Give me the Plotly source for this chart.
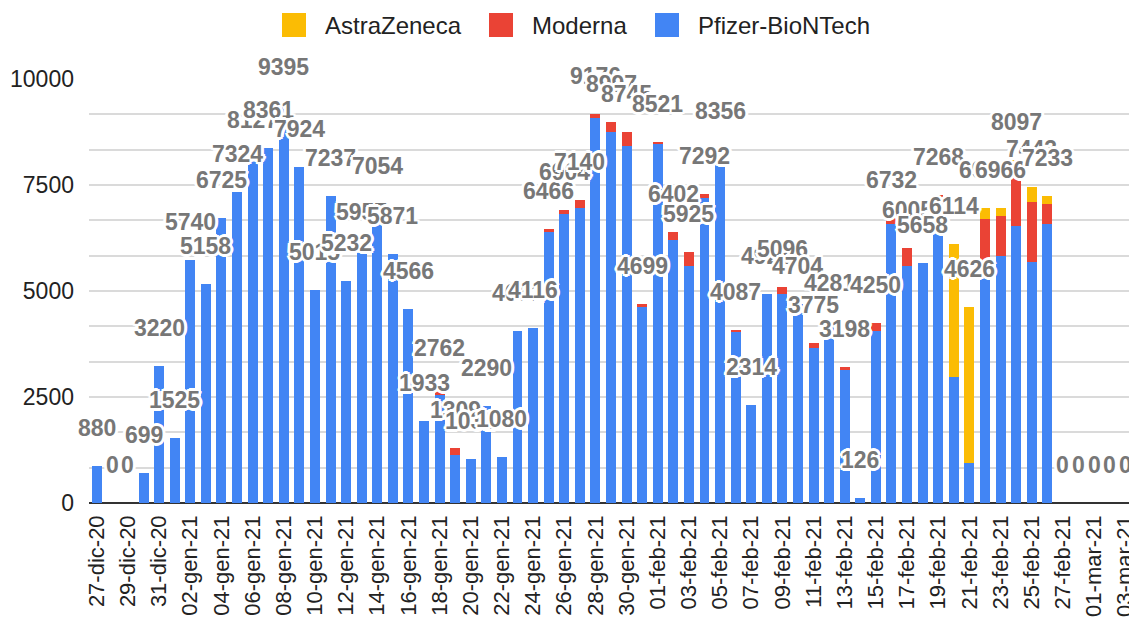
import plotly.graph_objects as go

dates = ["27-dic-20", "28-dic-20", "29-dic-20", "30-dic-20", "31-dic-20",
         "01-gen-21", "02-gen-21", "03-gen-21", "04-gen-21", "05-gen-21", "06-gen-21",
         "07-gen-21", "08-gen-21", "09-gen-21", "10-gen-21", "11-gen-21", "12-gen-21",
         "13-gen-21", "14-gen-21", "15-gen-21", "16-gen-21", "17-gen-21", "18-gen-21",
         "19-gen-21", "20-gen-21", "21-gen-21", "22-gen-21", "23-gen-21", "24-gen-21",
         "25-gen-21", "26-gen-21", "27-gen-21", "28-gen-21", "29-gen-21", "30-gen-21",
         "31-gen-21",
         "01-feb-21", "02-feb-21", "03-feb-21", "04-feb-21", "05-feb-21", "06-feb-21",
         "07-feb-21", "08-feb-21", "09-feb-21", "10-feb-21", "11-feb-21", "12-feb-21",
         "13-feb-21", "14-feb-21", "15-feb-21", "16-feb-21", "17-feb-21", "18-feb-21",
         "19-feb-21", "20-feb-21", "21-feb-21", "22-feb-21", "23-feb-21", "24-feb-21",
         "25-feb-21", "26-feb-21", "27-feb-21", "28-feb-21",
         "01-mar-21", "02-mar-21", "03-mar-21"]

pfizer = [880, 0, 0, 699, 3220,
          1525, 5740, 5158, 6725, 7324, 8127, 8361, 9395, 7924, 5015, 7237, 5232,
          5957, 7054, 5871, 4566, 1933, 2547, 1130, 1031, 2290, 1080, 4061, 4116,
          6396, 6814, 6965, 9086, 8757, 8428, 4629,
          8466, 6202, 5590, 7202, 8356, 4047, 2314, 4921, 4921, 4704, 3645, 4231,
          3148, 126, 4057, 6582, 5590, 5658, 7180, 2980, 951, 5300, 5825, 6533,
          5677, 6580, 0, 0,
          0, 0, 0]

moderna = [0, 0, 0, 0, 0,
           0, 0, 0, 0, 0, 0, 0, 0, 0, 0, 0, 0,
           0, 0, 0, 0, 0, 215, 179, 0, 0, 0, 0, 0,
           70, 90, 175, 90, 240, 317, 70,
           55, 200, 335, 90, 0, 40, 0, 0, 175, 0, 130, 50,
           50, 0, 193, 150, 415, 0, 88, 0, 0, 1400, 944, 1264,
           1430, 472, 0, 0,
           0, 0, 0]

astrazeneca = [0, 0, 0, 0, 0,
               0, 0, 0, 0, 0, 0, 0, 0, 0, 0, 0, 0,
               0, 0, 0, 0, 0, 0, 0, 0, 0, 0, 0, 0,
               0, 0, 0, 0, 0, 0, 0,
               0, 0, 0, 0, 0, 0, 0, 0, 0, 0, 0, 0,
               0, 0, 0, 0, 0, 0, 0, 3134, 3675, 246, 197, 300,
               336, 181, 0, 0,
               0, 0, 0]

y_ticks = [0, 2500, 5000, 7500, 10000]
y_ticktext = ["0", "2500", "5000", "7500", "10000"]

totals = [p + m + a for p, m, a in zip(pfizer, moderna, astrazeneca)]

FONT = "Arial, 'Liberation Sans', sans-serif"
C_PF = "#4285F4"
C_MO = "#EA4335"
C_AZ = "#FBBC04"

# the page body has an 8px default margin; size the figure to fit the window
OFF = 8
W, H = 1137 - OFF, 623 - OFF
ML, MR, MT, MB = 89 - OFF, 4, 79 - OFF, 623 - 503
PW, PH = W - ML - MR, H - MT - MB


def px_x(px):
    return (px - OFF - ML) / PW


def px_y(py):
    return (H - MB - (py - OFF)) / PH


fig = go.Figure()
fig.add_trace(go.Bar(x=dates, y=pfizer, name="Pfizer-BioNTech", marker_color=C_PF,
                     marker_line_width=0, showlegend=False))
fig.add_trace(go.Bar(x=dates, y=moderna, name="Moderna", marker_color=C_MO,
                     marker_line_width=0, showlegend=False))
fig.add_trace(go.Bar(x=dates, y=astrazeneca, name="AstraZeneca", marker_color=C_AZ,
                     marker_line_width=0, showlegend=False))

halo = ", ".join(f"{dx}px {dy}px 0 white" for dx, dy in
                 [(2, 0), (-2, 0), (0, 2), (0, -2), (2, 2), (-2, -2), (2, -2), (-2, 2),
                  (3, 0), (-3, 0), (0, 3), (0, -3)])

for d, t in zip(dates, totals):
    fig.add_annotation(x=d, y=t, text=str(t), showarrow=False, yshift=38,
                       yanchor="middle", xanchor="center",
                       font=dict(family=FONT, size=23, color="#777777",
                                 weight="bold", shadow=halo))

# custom legend (order as in reference)
legend_items = [("AstraZeneca", C_AZ, 282), ("Moderna", C_MO, 489),
                ("Pfizer-BioNTech", C_PF, 655)]
for name, col, sx in legend_items:
    fig.add_shape(type="rect", xref="paper", yref="paper",
                  x0=px_x(sx), x1=px_x(sx + 24), y0=px_y(37), y1=px_y(13),
                  fillcolor=col, line=dict(width=0), layer="above")
    fig.add_annotation(xref="paper", yref="paper", x=px_x(sx + 41), y=px_y(25),
                       text=name, showarrow=False, xanchor="left", yanchor="middle",
                       font=dict(family=FONT, size=24, color="#222222"))

fig.update_layout(
    width=W, height=H,
    margin=dict(l=ML, r=MR, t=MT, b=MB, autoexpand=False),
    barmode="stack",
    bargap=0.36,
    plot_bgcolor="white",
    paper_bgcolor="white",
    font=dict(family=FONT, size=23, color="#222222"),
    showlegend=False,
)

fig.update_xaxes(
    type="category",
    range=[-0.5, len(dates) - 0.5],
    tickmode="array",
    tickvals=dates[::2],
    ticktext=dates[::2],
    tickangle=-90,
    tickfont=dict(size=22, color="#222222"),
    showgrid=False,
    showline=False,
    ticks="",
    ticklabelstandoff=7,
    automargin=False,
)

fig.update_yaxes(
    range=[0, 10000],
    tickmode="array",
    tickvals=y_ticks,
    ticktext=y_ticktext,
    tickfont=dict(size=23, color="#222222"),
    showgrid=True,
    gridcolor="#dadada",
    gridwidth=1.5,
    minor=dict(tickmode="linear", tick0=0, dtick=2500 / 3, showgrid=True,
               gridcolor="#dadada", gridwidth=1.5),
    zeroline=True,
    zerolinecolor="#333333",
    zerolinewidth=2,
    ticks="",
    ticklabelstandoff=14,
    automargin=False,
)

fig.write_html("out.html")
